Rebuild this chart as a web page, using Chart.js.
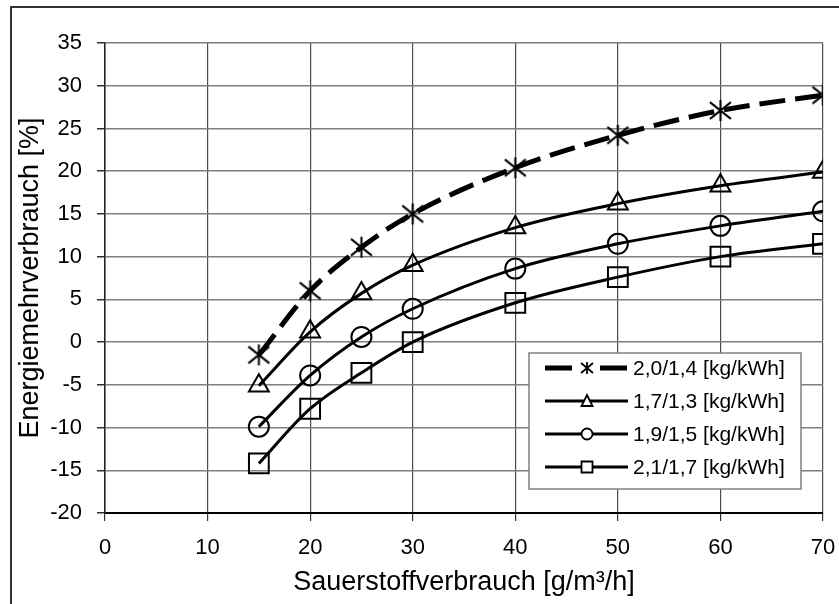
<!DOCTYPE html>
<html lang="de">
<head>
  <meta charset="UTF-8">
  <title>Energiemehrverbrauch</title>
  <style>
    body {
      margin: 0;
      background: #ffffff;
    }
    #wrap {
      width: 839px;
      height: 604px;
    }
  </style>
</head>
<body>
  <div id="wrap"><canvas id="chart" width="839" height="604"></canvas></div>

  <script src="https://cdn.jsdelivr.net/npm/chart.js"></script>
  <script>
    // Daten
    const sauerstoff = [15, 20, 25, 30, 40, 50, 60, 70];
    const reihe20_14 = [-1.5, 6.0, 11.1, 15.0, 20.4, 24.2, 27.1, 28.9];
    const reihe17_13 = [-5.1, 1.2, 5.7, 9.0, 13.4, 16.2, 18.3, 19.9];
    const reihe19_15 = [-9.9, -3.9, 0.6, 3.9, 8.6, 11.5, 13.6, 15.3];
    const reihe21_17 = [-14.2, -7.8, -3.6, 0.0, 4.6, 7.6, 10.0, 11.5];
    const namen = ['2,0/1,4 [kg/kWh]', '1,7/1,3 [kg/kWh]', '1,9/1,5 [kg/kWh]', '2,1/1,7 [kg/kWh]'];
    const xTicks = [0, 10, 20, 30, 40, 50, 60, 70];
    const yTicks = [35, 30, 25, 20, 15, 10, 5, 0, -5, -10, -15, -20];

    const schrift = "'Liberation Sans', Arial, sans-serif";

    function punkte(werte) {
      return sauerstoff.map((x, i) => ({ x: x, y: werte[i] }));
    }

    // Excel-Stern: senkrechter Strich + X
    function stern(r, lw) {
      const c = document.createElement('canvas');
      const s = Math.ceil(2 * r + lw + 2);
      c.width = s;
      c.height = s;
      const g = c.getContext('2d');
      const m = s / 2;
      g.strokeStyle = '#000';
      g.lineWidth = lw;
      g.beginPath();
      g.moveTo(m, m - r); g.lineTo(m, m + r);
      g.moveTo(m - r, m - r * 0.8); g.lineTo(m + r, m + r * 0.8);
      g.moveTo(m - r, m + r * 0.8); g.lineTo(m + r, m - r * 0.8);
      g.stroke();
      return c;
    }

    const rahmen = {
      id: 'rahmen',
      beforeDraw(chart) {
        const ctx = chart.ctx;
        ctx.save();
        ctx.fillStyle = '#fff';
        ctx.fillRect(0, 0, chart.width, chart.height);
        ctx.strokeStyle = '#333';
        ctx.lineWidth = 2;
        ctx.beginPath();
        ctx.moveTo(11, chart.height);
        ctx.lineTo(11, 7);
        ctx.lineTo(chart.width, 7);
        ctx.stroke();
        ctx.restore();
      }
    };

    // Legende innerhalb der Zeichenfläche
    const legende = {
      id: 'legende',
      afterDatasetsDraw(chart) {
        const ctx = chart.ctx;
        const bx = 529, by = 353, bw = 272, bh = 136;
        ctx.save();
        ctx.fillStyle = '#fff';
        ctx.fillRect(bx, by, bw, bh);
        ctx.strokeStyle = '#808080';
        ctx.lineWidth = 1.5;
        ctx.strokeRect(bx, by, bw, bh);

        chart.data.datasets.forEach((ds, i) => {
          const y = by + 15 + i * 33;
          const x0 = 545, x1 = 628, xm = 587;
          ctx.strokeStyle = '#000';
          ctx.lineWidth = ds.borderWidth;
          ctx.setLineDash(i === 0 ? [27, 28] : []);
          ctx.beginPath();
          ctx.moveTo(x0, y);
          ctx.lineTo(x1, y);
          ctx.stroke();
          ctx.setLineDash([]);

          ctx.lineWidth = 1.8;
          ctx.fillStyle = '#fff';
          ctx.beginPath();
          if (i === 0) {
            ctx.moveTo(xm, y - 6); ctx.lineTo(xm, y + 6);
            ctx.moveTo(xm - 6, y - 5); ctx.lineTo(xm + 6, y + 5);
            ctx.moveTo(xm - 6, y + 5); ctx.lineTo(xm + 6, y - 5);
            ctx.stroke();
          } else if (i === 1) {
            ctx.moveTo(xm, y - 6); ctx.lineTo(xm + 5.5, y + 5); ctx.lineTo(xm - 5.5, y + 5);
            ctx.closePath();
            ctx.fill(); ctx.stroke();
          } else if (i === 2) {
            ctx.arc(xm, y, 5.5, 0, Math.PI * 2);
            ctx.fill(); ctx.stroke();
          } else {
            ctx.rect(xm - 5.5, y - 5.5, 11, 11);
            ctx.fill(); ctx.stroke();
          }

          ctx.fillStyle = '#000';
          ctx.font = '21px ' + schrift;
          ctx.textBaseline = 'middle';
          ctx.textAlign = 'left';
          ctx.fillText(ds.label, 633, y + 1);
        });
        ctx.restore();
      }
    };

    new Chart(document.getElementById('chart'), {
      type: 'line',
      data: {
        datasets: [
          {
            label: namen[0],
            data: punkte(reihe20_14),
            borderColor: '#000',
            borderWidth: 5,
            borderDash: [26, 10],
            cubicInterpolationMode: 'monotone',
            pointStyle: stern(10.5, 2),
            pointRadius: 10,
            pointBorderColor: '#000'
          },
          {
            label: namen[1],
            data: punkte(reihe17_13),
            borderColor: '#000',
            borderWidth: 3,
            cubicInterpolationMode: 'monotone',
            pointStyle: 'triangle',
            pointRadius: 11.5,
            pointBorderWidth: 2,
            pointBorderColor: '#000',
            pointBackgroundColor: 'rgba(0,0,0,0)'
          },
          {
            label: namen[2],
            data: punkte(reihe19_15),
            borderColor: '#000',
            borderWidth: 3,
            cubicInterpolationMode: 'monotone',
            pointStyle: 'circle',
            pointRadius: 10,
            pointBorderWidth: 2,
            pointBorderColor: '#000',
            pointBackgroundColor: 'rgba(0,0,0,0)'
          },
          {
            label: namen[3],
            data: punkte(reihe21_17),
            borderColor: '#000',
            borderWidth: 3,
            cubicInterpolationMode: 'monotone',
            pointStyle: 'rect',
            pointRadius: 14,
            pointBorderWidth: 2,
            pointBorderColor: '#000',
            pointBackgroundColor: 'rgba(0,0,0,0)'
          }
        ]
      },
      options: {
        responsive: false,
        animation: false,
        devicePixelRatio: 1,
        layout: { padding: { top: 43, right: 10, left: 0, bottom: 0 } },
        plugins: {
          legend: { display: false },
          tooltip: { enabled: false }
        },
        scales: {
          x: {
            type: 'linear',
            min: 0,
            max: 70,
            afterBuildTicks(scale) {
              scale.ticks = xTicks.map(v => ({ value: v }));
            },
            afterFit(scale) {
              scale.height = 91;
              scale.paddingLeft = 0;
              scale.paddingRight = 0;
            },
            ticks: {
              color: '#000',
              font: { family: schrift, size: 22 },
              padding: 14,
              maxRotation: 0,
              autoSkip: false
            },
            grid: {
              color: '#4d4d4d',
              lineWidth: 1.2,
              tickLength: 8,
              tickColor: '#333'
            },
            border: { color: '#000', width: 2 },
            title: {
              display: true,
              text: 'Sauerstoffverbrauch [g/m³/h]',
              color: '#000',
              font: { family: schrift, size: 27 },
              padding: { top: 0, bottom: 5 }
            }
          },
          y: {
            min: -20,
            max: 35,
            afterBuildTicks(scale) {
              scale.ticks = yTicks.map(v => ({ value: v }));
            },
            afterFit(scale) {
              scale.width = 105;
              scale.paddingTop = 0;
              scale.paddingBottom = 0;
            },
            ticks: {
              color: '#000',
              font: { family: schrift, size: 22 },
              padding: 15,
              autoSkip: false
            },
            grid: {
              color: '#7f7f7f',
              lineWidth: 1.5,
              tickLength: 8,
              tickColor: '#333'
            },
            border: { color: '#222', width: 1.5 },
            title: {
              display: true,
              text: 'Energiemehrverbrauch [%]',
              color: '#000',
              font: { family: schrift, size: 27 },
              padding: { top: 14, bottom: 0 }
            }
          }
        }
      },
      plugins: [rahmen, legende]
    });
  </script>
</body>
</html>
